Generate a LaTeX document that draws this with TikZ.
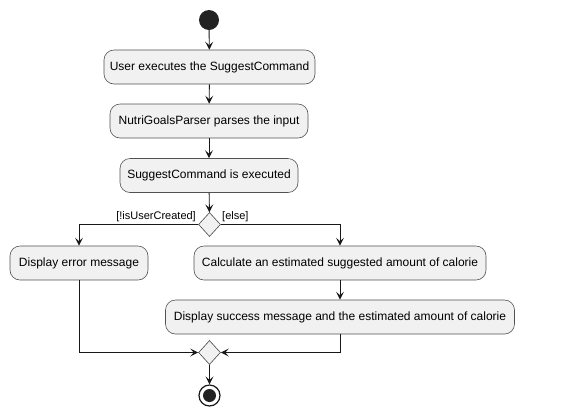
\documentclass[tikz,border=0pt]{standalone}
\usepackage{fontspec}
\setmainfont{Liberation Sans}
\usetikzlibrary{shapes.geometric,arrows.meta}
\definecolor{boxfill}{HTML}{F1F1F1}
\definecolor{ln}{HTML}{181818}
\definecolor{dot}{HTML}{222222}
\begin{document}
\begin{tikzpicture}[x=1pt,y=-1pt,
  act/.style={draw=ln!75, fill=boxfill, rounded corners=10pt, line width=0.6pt,
    minimum height=34pt, inner xsep=2pt, font=\fontsize{12}{14}\selectfont, text=black},
  dia/.style={diamond, draw=ln!80, fill=boxfill, line width=0.6pt, minimum width=22pt, minimum height=24pt, inner sep=0pt},
  arr/.style={draw=ln, line width=0.9pt, -{Stealth[length=8pt,width=8pt,inset=3.5pt]}},
  lbl/.style={font=\fontsize{11}{13}\selectfont, inner sep=1pt}]
\useasboundingbox (0,0) rectangle (569,416);
\node[circle, fill=dot, minimum size=20pt, inner sep=0pt] (s) at (209,20) {};
\node[act, minimum width=211pt] (a1) at (209.5,67) {User executes the SuggestCommand};
\node[act, minimum width=198pt] (a2) at (209,121) {NutriGoalsParser parses the input};
\node[act, minimum width=178pt] (a3) at (209,175.5) {SuggestCommand is executed};
\node[dia] (d1) at (209.5,224.5) {};
\node[act, minimum width=138pt] (l1) at (79,263) {Display error message};
\node[act, minimum width=292pt] (r1) at (340,263) {Calculate an estimated suggested amount of calorie};
\node[act, minimum width=349pt] (r2) at (340,317) {Display success message and the estimated amount of calorie};
\node[dia] (d2) at (209.5,352.5) {};
\node[circle, draw=ln, line width=1.2pt, fill=white, minimum size=21pt, inner sep=0pt] (e) at (209.5,395.5) {};
\node[circle, fill=dot, minimum size=13pt, inner sep=0pt] (ei) at (e.center) {};
\node[lbl, anchor=south east] (lt) at (197,223) {[!isUserCreated]};
\node[lbl, anchor=south west] (le) at (221,223) {[else]};
\draw[arr] (s) -- (a1);
\draw[arr] (a1) -- (a2);
\draw[arr] (a2) -- (a3);
\draw[arr] (a3) -- (d1);
\draw[arr] (d1.west) -| (l1.north);
\draw[arr] (d1.east) -| (r1.north);
\draw[arr] (r1) -- (r2);
\draw[arr] (l1.south) |- (d2.west);
\draw[arr] (r2.south) |- (d2.east);
\draw[arr] (d2) -- (e);
\end{tikzpicture}
\end{document}
